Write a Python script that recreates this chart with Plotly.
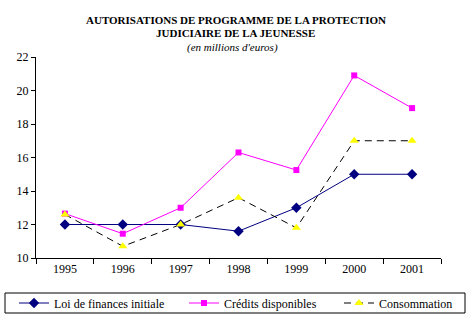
import plotly.graph_objects as go

years = ["1995", "1996", "1997", "1998", "1999", "2000", "2001"]
loi = [12.0, 12.0, 12.0, 11.6, 13.0, 15.0, 15.0]
credits = [12.65, 11.45, 13.0, 16.3, 15.25, 20.9, 18.95]
conso = [12.6, 10.7, 12.0, 13.6, 11.8, 17.0, 17.0]

FONT = "Liberation Serif"
L, T, W, H = 36, 57, 405, 201

def px(xp):
    return (xp - L) / W

def py(yp):
    return (T + H - yp) / H

fig = go.Figure()
fig.add_trace(go.Scatter(x=years, y=loi, name="Loi de finances initiale", mode="lines+markers",
                         line=dict(color="#000080", width=1),
                         marker=dict(symbol="diamond", size=8, color="#000080"), legend="legend"))
fig.add_trace(go.Scatter(x=years, y=credits, name="Crédits disponibles", mode="lines+markers",
                         line=dict(color="#FF00FF", width=1),
                         marker=dict(symbol="square", size=6, color="#FF00FF"), legend="legend2"))
fig.add_trace(go.Scatter(x=years, y=conso, name="Consommation", mode="lines+markers",
                         line=dict(color="#000000", width=1, dash="7px,5px"),
                         marker=dict(symbol="triangle-up", size=8, color="#FFFF00"), legend="legend3"))

leg = dict(orientation="h", xanchor="left", yanchor="middle", y=py(303),
           bgcolor="rgba(0,0,0,0)", borderwidth=0, font=dict(family=FONT, size=12))

fig.update_layout(
    width=471, height=321,
    margin=dict(l=L, r=471 - L - W, t=T, b=321 - T - H, autoexpand=False),
    paper_bgcolor="white", plot_bgcolor="white",
    font=dict(family=FONT, size=12, color="black"),
    showlegend=True,
    legend=dict(leg, x=px(14)),
    legend2=dict(leg, x=px(184)),
    legend3=dict(leg, x=px(339)),
    xaxis=dict(type="category", range=[-0.5, 6.5], showline=True, linecolor="black", linewidth=1,
               ticks="outside", ticklen=5, tickcolor="black", tickson="boundaries",
               showgrid=False, zeroline=False, tickfont=dict(family=FONT, size=12)),
    yaxis=dict(range=[10, 22], dtick=2, showline=True, linecolor="black", linewidth=1,
               ticks="outside", ticklen=4, tickcolor="black", showgrid=False, zeroline=False,
               tickfont=dict(family=FONT, size=12)),
    shapes=[dict(type="rect", xref="paper", yref="paper", x0=px(5), x1=px(465), y0=py(293), y1=py(313),
                 line=dict(color="black", width=1), fillcolor="rgba(0,0,0,0)")],
    annotations=[
        dict(text="<b>AUTORISATIONS DE PROGRAMME DE LA PROTECTION</b>", xref="paper", yref="paper",
             x=px(235.5), y=py(20), showarrow=False, font=dict(family=FONT, size=11), yanchor="middle"),
        dict(text="<b>JUDICIAIRE DE LA JEUNESSE</b>", xref="paper", yref="paper",
             x=px(235.5), y=py(33), showarrow=False, font=dict(family=FONT, size=11), yanchor="middle"),
        dict(text="<i>(en millions d'euros)</i>", xref="paper", yref="paper",
             x=px(232), y=py(47), showarrow=False, font=dict(family=FONT, size=11), yanchor="middle"),
    ],
)

fig.write_html("out.html")
